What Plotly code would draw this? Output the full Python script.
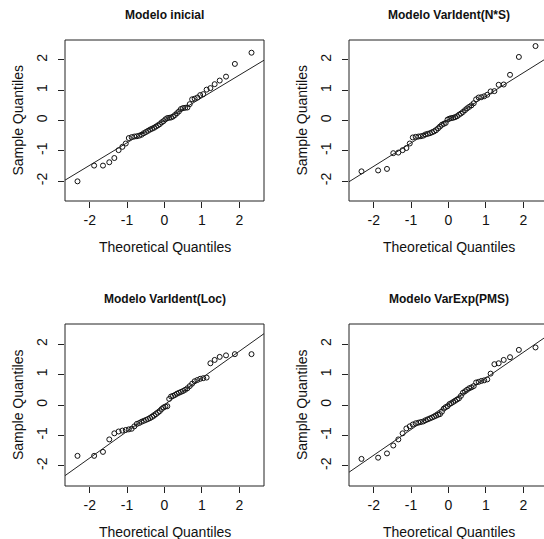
import numpy as np
import plotly.graph_objects as go

# Theoretical normal quantiles for n = 50 (ppoints)
theoretical = [
    -2.326, -1.881, -1.645, -1.476, -1.341, -1.227, -1.126, -1.036, -0.954, -0.878,
    -0.806, -0.739, -0.674, -0.613, -0.553, -0.496, -0.440, -0.385, -0.332, -0.279,
    -0.228, -0.176, -0.126, -0.075, -0.025, 0.025, 0.075, 0.126, 0.176, 0.228,
    0.279, 0.332, 0.385, 0.440, 0.496, 0.553, 0.613, 0.674, 0.739, 0.806,
    0.878, 0.954, 1.036, 1.126, 1.227, 1.341, 1.476, 1.645, 1.881, 2.326,
]

titles = ["Modelo inicial", "Modelo VarIdent(N*S)", "Modelo VarIdent(Loc)", "Modelo VarExp(PMS)"]

sample_inicial = [
    -2.01, -1.49, -1.49, -1.38, -1.24, -0.98, -0.87, -0.76, -0.58, -0.55,
    -0.53, -0.52, -0.50, -0.47, -0.42, -0.38, -0.34, -0.30, -0.27, -0.24,
    -0.20, -0.16, -0.12, -0.06, -0.02, 0.04, 0.08, 0.09, 0.10, 0.13,
    0.18, 0.24, 0.30, 0.38, 0.41, 0.42, 0.43, 0.54, 0.70, 0.72,
    0.76, 0.84, 0.87, 1.02, 1.07, 1.20, 1.32, 1.45, 1.87, 2.24,
]
sample_varident_ns = [
    -1.68, -1.65, -1.60, -1.08, -1.06, -0.98, -0.91, -0.76, -0.56, -0.54,
    -0.53, -0.52, -0.50, -0.46, -0.44, -0.42, -0.39, -0.36, -0.32, -0.26,
    -0.20, -0.14, -0.11, -0.08, 0.03, 0.06, 0.08, 0.09, 0.11, 0.14,
    0.19, 0.23, 0.28, 0.34, 0.40, 0.45, 0.50, 0.57, 0.70, 0.76,
    0.77, 0.80, 0.85, 0.96, 0.97, 1.18, 1.19, 1.51, 2.10, 2.46,
]
sample_varident_loc = [
    -1.67, -1.67, -1.54, -1.13, -0.93, -0.87, -0.84, -0.82, -0.80, -0.78,
    -0.70, -0.62, -0.59, -0.55, -0.52, -0.49, -0.46, -0.43, -0.39, -0.35,
    -0.30, -0.25, -0.20, -0.13, -0.08, -0.05, -0.04, 0.20, 0.28, 0.30,
    0.33, 0.37, 0.40, 0.43, 0.46, 0.50, 0.55, 0.62, 0.70, 0.78,
    0.82, 0.86, 0.88, 0.90, 1.37, 1.48, 1.58, 1.63, 1.67, 1.67,
]
sample_varexp_pms = [
    -1.77, -1.73, -1.59, -1.33, -1.13, -0.93, -0.77, -0.70, -0.64, -0.60,
    -0.58, -0.56, -0.54, -0.50, -0.47, -0.44, -0.41, -0.38, -0.35, -0.32,
    -0.30, -0.22, -0.12, -0.07, -0.04, 0.03, 0.06, 0.10, 0.14, 0.18,
    0.22, 0.30, 0.40, 0.45, 0.50, 0.55, 0.58, 0.62, 0.74, 0.76,
    0.79, 0.81, 0.84, 1.03, 1.34, 1.37, 1.48, 1.57, 1.81, 1.89,
]

tick_vals = [-2, -1, 0, 1, 2]
tick_text = ["-2", "-1", "0", "1", "2"]
x_title = "Theoretical Quantiles"
y_title = "Sample Quantiles"

samples = [sample_inicial, sample_varident_ns, sample_varident_loc, sample_varexp_pms]

W, H = 544, 539
FONT = "Liberation Sans, Arial, sans-serif"
Z_Q = 0.6744898  # normal quartile

# panel boxes in pixels: (left, right, top, bottom)
boxes = [(65, 264, 40, 201), (349, 548, 40, 201), (65, 264, 324, 486), (349, 548, 324, 486)]
RNG = 2.66
px_per_unit = (264 - 65) / (2 * RNG)

fig = go.Figure()
layout = dict(
    width=W, height=H, margin=dict(l=0, r=0, t=0, b=0),
    paper_bgcolor="white", plot_bgcolor="white", showlegend=False,
    font=dict(family=FONT, color="black", size=14),
)
shapes, annotations = [], []

for k, (s, title, box) in enumerate(zip(samples, titles, boxes)):
    n = "" if k == 0 else str(k + 1)
    xa, ya = "x" + n, "y" + n
    left, right, top, bottom = box
    vis_right = min(right, W)
    x_max = -RNG + (vis_right - left) / px_per_unit

    fig.add_trace(go.Scatter(
        x=theoretical, y=s, mode="markers", xaxis=xa, yaxis=ya,
        marker=dict(symbol="circle-open", size=5, color="#111", line=dict(width=1, color="#111")),
    ))
    q1, q3 = np.quantile(s, [0.25, 0.75])
    slope = (q3 - q1) / (2 * Z_Q)
    intercept = q1 + slope * Z_Q
    lx = np.array([-3.5, 3.5])
    fig.add_trace(go.Scatter(
        x=lx, y=intercept + slope * lx, mode="lines", xaxis=xa, yaxis=ya,
        line=dict(color="#222", width=1),
    ))

    axis_common = dict(
        showgrid=False, zeroline=False, showline=False,
        ticks="outside", ticklen=6, tickwidth=1, tickcolor="#222",
        tickvals=tick_vals, ticktext=tick_text,
        tickfont=dict(family=FONT, size=14, color="#111"),
    )
    layout["xaxis" + n] = dict(
        domain=[left / W, vis_right / W], range=[-RNG, x_max], anchor=ya,
        **axis_common,
    )
    layout["yaxis" + n] = dict(
        domain=[1 - bottom / H, 1 - top / H], range=[-RNG, RNG], anchor=xa,
        tickangle=-90, ticklabelstandoff=5, **axis_common,
    )
    shapes.append(dict(
        type="rect", xref="paper", yref="paper",
        x0=left / W, x1=right / W, y0=1 - bottom / H, y1=1 - top / H,
        line=dict(color="#222", width=1), fillcolor="rgba(0,0,0,0)", layer="above",
    ))
    cx = (left + right) / 2
    annotations.append(dict(
        text="<b>" + title + "</b>", xref="paper", yref="paper",
        x=cx / W, y=1 - (top - 25) / H, xanchor="center", yanchor="middle",
        showarrow=False, font=dict(family=FONT, size=12, color="#111"),
    ))
    annotations.append(dict(
        text=x_title, xref="paper", yref="paper",
        x=cx / W, y=1 - (bottom + 46) / H, xanchor="center", yanchor="middle",
        showarrow=False, font=dict(family=FONT, size=14, color="#111"),
    ))
    annotations.append(dict(
        text=y_title, xref="paper", yref="paper", textangle=-90,
        x=(left - 47) / W, y=1 - ((top + bottom) / 2) / H, xanchor="center", yanchor="middle",
        showarrow=False, font=dict(family=FONT, size=14, color="#111"),
    ))

layout["shapes"] = shapes
layout["annotations"] = annotations
fig.update_layout(**layout)
fig.write_html("out.html")
